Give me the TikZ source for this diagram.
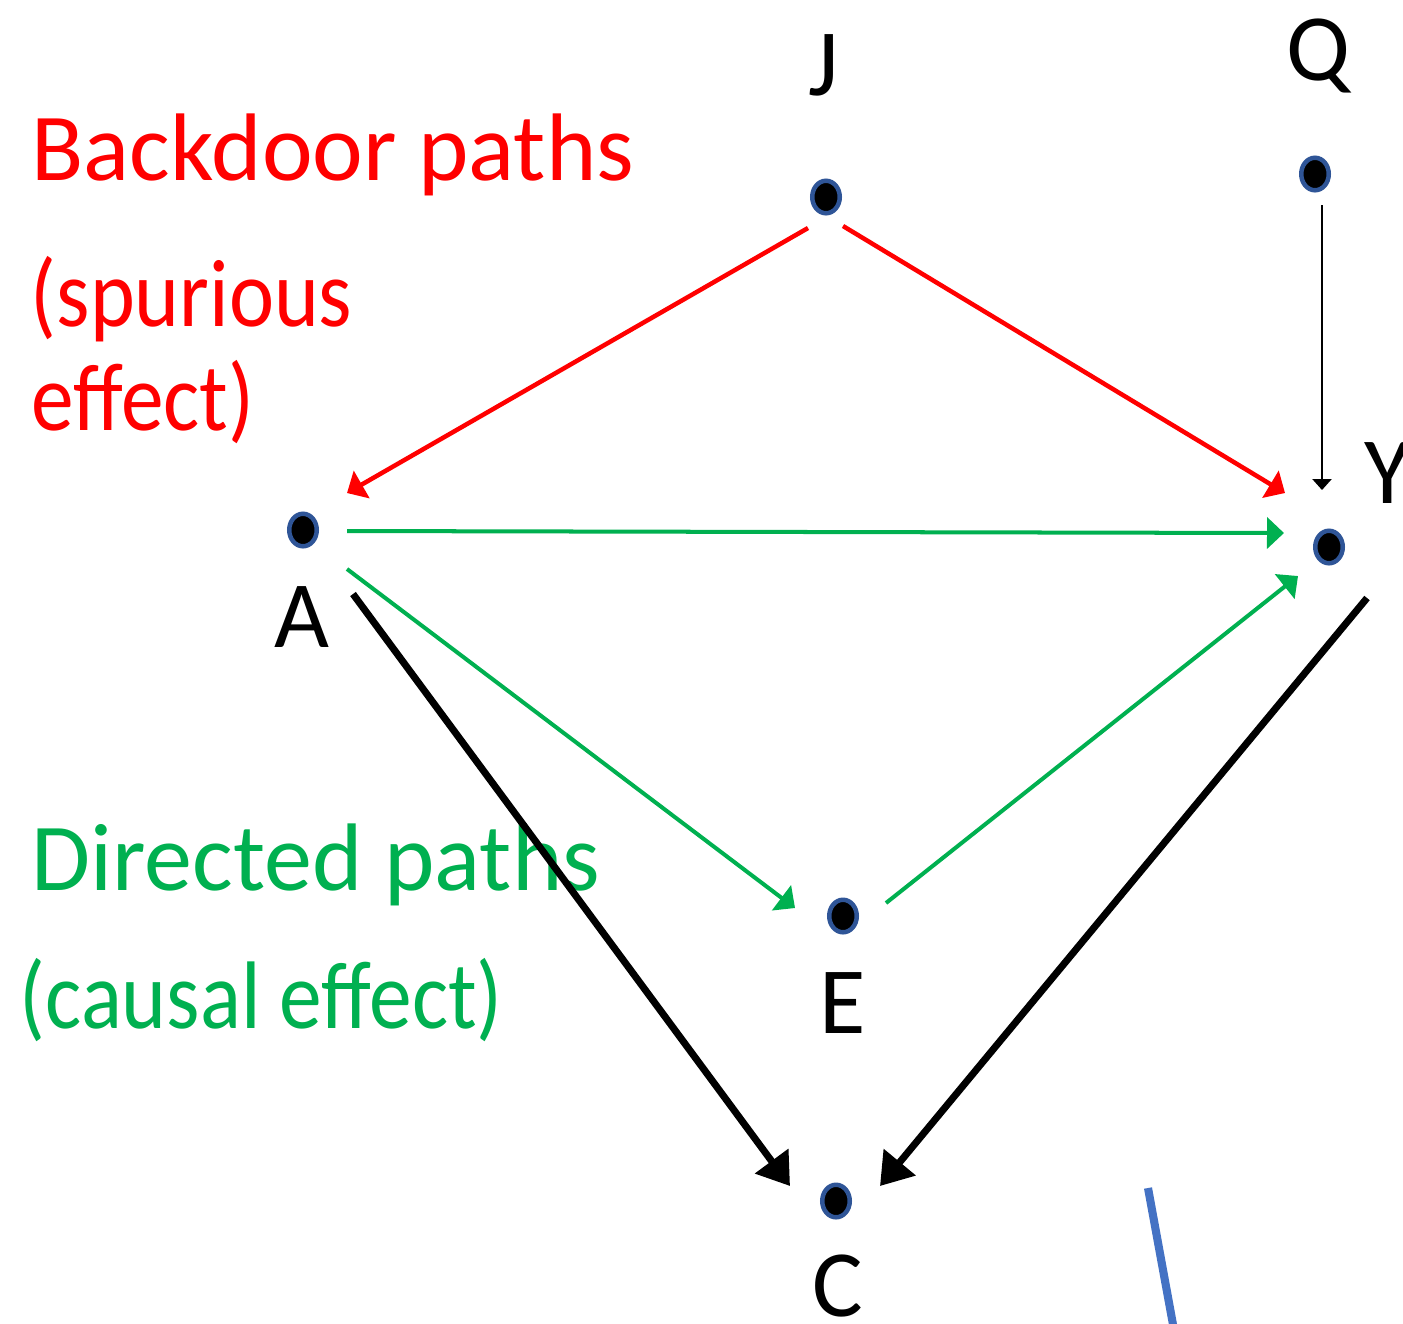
\documentclass[tikz,border=0pt]{standalone}
\usepackage{fontspec}
\setmainfont{Carlito}
\usetikzlibrary{arrows.meta,shapes.geometric}
\definecolor{dotblue}{HTML}{2F5597}
\definecolor{pgreen}{HTML}{00B050}
\definecolor{lblue}{HTML}{4472C4}
\begin{document}
\begin{tikzpicture}[x=0.01cm,y=-0.01cm,
  dot/.style={ellipse, draw=dotblue, fill=black, line width=1.28pt, inner sep=0pt, minimum width=0.275cm, minimum height=0.325cm},
  lbl/.style={font=\fontsize{27}{32}\selectfont, inner sep=0pt, anchor=base},
  txt/.style={font=\fontsize{27.3}{32}\selectfont, inner sep=0pt, anchor=base west},
  redarr/.style={draw=red, line width=1.28pt, -{Triangle[length=0.17cm,width=0.31cm]}},
  greenarr/.style={draw=pgreen, line width=1.14pt, -{Triangle[length=0.17cm,width=0.31cm]}},
  blackarr/.style={draw=black, line width=2pt, -{Triangle[length=0.31cm,width=0.40cm]}},
  thinarr/.style={draw=black, line width=0.7pt, -{Triangle[length=0.11cm,width=0.19cm]}}
]
\useasboundingbox (0,0) rectangle (1403,1323);

% dots
\node[dot] (J) at (826,197) {};
\node[dot] (Q) at (1315,174) {};
\node[dot] (A) at (303,530) {};
\node[dot] (Y) at (1329,547) {};
\node[dot] (E) at (843,916) {};
\node[dot] (C) at (836,1201) {};

% labels
\node[lbl] (Jl) at (824,95) {J};
\node[lbl] (Ql) at (1318,80) {Q};
\node[lbl, anchor=base west] (Yl) at (1364,503) {Y};
\node[lbl] (Al) at (302,647) {A};
\node[lbl] (El) at (843,1033) {E};
\node[lbl] (Cl) at (838,1316) {C};

% side texts
\node[txt, text=red] (bd1) at (31,180) {Backdoor paths};
\node[txt, text=red] (bd2) at (30,326) {\scalebox{0.89}[1]{(spurious}};
\node[txt, text=red] (bd3) at (31,430) {\scalebox{0.89}[1]{effect)}};
\node[txt, text=pgreen] (dp1) at (31,890) {Directed paths};
\node[txt, text=pgreen] (dp2) at (19,1028) {\scalebox{0.89}[1]{(causal effect)}};

% connectors
\draw[redarr] ([shift={(-18,31)}]J.center) -- ([shift={(44,-37)}]A.center);
\draw[redarr] ([shift={(17,29)}]J.center) -- ([shift={(-44,-54)}]Y.center);
\draw[thinarr] ([shift={(7,31)}]Q.center) -- ([shift={(-7,-57)}]Y.center);
\draw[greenarr] ([shift={(44,1)}]A.center) -- ([shift={(-45,-14)}]Y.center);
\draw[greenarr] ([shift={(44,39)}]A.center) -- ([shift={(-48,-8)}]E.center);
\draw[greenarr] ([shift={(43,-13)}]E.center) -- ([shift={(-31,29)}]Y.center);
\draw[blackarr] ([shift={(50,64)}]A.center) -- ([shift={(-46,-15)}]C.center);
\draw[blackarr] ([shift={(38,51)}]Y.center) -- ([shift={(44,-15)}]C.center);

% stray blue line
\coordinate (s1) at (1148,1188);
\coordinate (s2) at (1174,1330);
\draw[lblue, line width=2.3pt] (s1) -- (s2);
\end{tikzpicture}
\end{document}
